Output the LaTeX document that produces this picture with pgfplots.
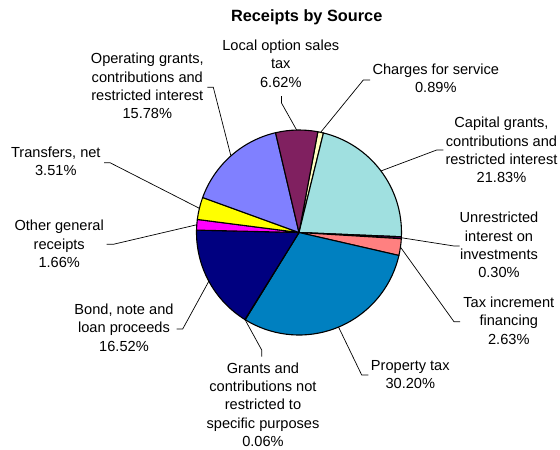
\documentclass[border=0pt]{standalone}
\usepackage{pgfplots}
\pgfplotsset{compat=1.18}
\usepackage{pgfplotstable}
\usepackage{fontspec}
\setmainfont{Liberation Sans}

% slice colours, clockwise from "Charges for service"
\definecolor{c0}{HTML}{FFFFC0}
\definecolor{c1}{HTML}{A0E0E0}
\definecolor{c2}{HTML}{660066}
\definecolor{c3}{HTML}{FF8080}
\definecolor{c4}{HTML}{0080C0}
\definecolor{c5}{HTML}{808000}
\definecolor{c6}{HTML}{000080}
\definecolor{c7}{HTML}{FF00FF}
\definecolor{c8}{HTML}{FFFF00}
\definecolor{c9}{HTML}{8080FF}
\definecolor{c10}{HTML}{802060}

% percentages, clockwise
\pgfplotstableread{
value
0.89
21.83
0.30
2.63
30.20
0.06
16.52
1.66
3.51
15.78
6.62
}\piedata

\begin{document}
\begin{tikzpicture}[
  lbl/.style={align=center, inner sep=0pt, font=\fontsize{14.6bp}{18.3bp}\selectfont},
  leader/.style={draw=black, line width=0.7bp},
]
\useasboundingbox (0,0) rectangle (560bp,450bp);
% start/end/mid angles of each slice (first slice starts 10.6 deg right of 12 o'clock)
\xdef\cum{79.4}
\foreach \i in {0,...,10}{%
  \pgfplotstablegetelem{\i}{value}\of\piedata
  \pgfmathsetmacro\a{\cum}%
  \pgfmathsetmacro\b{\cum-3.6*\pgfplotsretval}%
  \pgfmathsetmacro\m{(\a+\b)/2}%
  \expandafter\xdef\csname sa\i\endcsname{\a}%
  \expandafter\xdef\csname sb\i\endcsname{\b}%
  \expandafter\xdef\csname sm\i\endcsname{\m}%
  \xdef\cum{\b}%
}
\begin{axis}[
  at={(0,0)}, anchor=south west,
  hide axis, scale only axis,
  width=560bp, height=450bp,
  xmin=0, xmax=560, ymin=0, ymax=450,
  y dir=reverse, clip=false,
]
\pgfplotsinvokeforeach{0,...,10}{
  \edef\temp{\noexpand\filldraw[fill=c#1, draw=black, line width=1.1bp, line join=round]
    (axis cs:299,232.5) -- ++(\csname sa#1\endcsname:102.5bp)
    arc[start angle=\csname sa#1\endcsname, end angle=\csname sb#1\endcsname, radius=102.5bp] -- cycle;}
  \temp
  \edef\temp{\noexpand\path (axis cs:299,232.5) ++(\csname sm#1\endcsname:102.5bp) coordinate (rim#1);}
  \temp
}

% title
\node[font=\fontsize{16.3bp}{19bp}\selectfont\bfseries, anchor=base] at (axis cs:306.7,21.7) {Receipts by Source};

% labels
\node[lbl] at (axis cs:435.8,78.5) {Charges for service\\0.89\%};
\node[lbl] at (axis cs:501.5,150) {Capital grants,\\contributions and\\restricted interest\\21.83\%};
\node[lbl] at (axis cs:499,245) {Unrestricted\\interest on\\investments\\0.30\%};
\node[lbl] at (axis cs:508.8,320.5) {Tax increment\\financing\\2.63\%};
\node[lbl] at (axis cs:410.3,374.8) {Property tax\\30.20\%};
\node[lbl] at (axis cs:263,404.5) {Grants and\\contributions not\\restricted to\\specific purposes\\0.06\%};
\node[lbl] at (axis cs:124,327.6) {Bond, note and\\loan proceeds\\16.52\%};
\node[lbl] at (axis cs:59.2,243.8) {Other general\\receipts\\1.66\%};
\node[lbl] at (axis cs:55.8,161.6) {Transfers, net\\3.51\%};
\node[lbl] at (axis cs:147.3,86) {Operating grants,\\contributions and\\restricted interest\\15.78\%};
\node[lbl] at (axis cs:280.8,63.5) {Local option sales\\tax\\6.62\%};

% leader lines
\draw[leader] (axis cs:370,80) -- (axis cs:363.3,80) -- (rim0);
\draw[leader] (axis cs:443.3,150) -- (axis cs:436.7,150) -- (rim1);
\draw[leader] (axis cs:459.5,246) -- (axis cs:454,246) -- (rim2);
\draw[leader] (axis cs:460,321.7) -- (axis cs:454,321.7) -- (rim3);
\draw[leader] (axis cs:368.3,375) -- (axis cs:361.7,375) -- (rim4);
\draw[leader] (axis cs:261.7,356.7) -- (axis cs:261.7,350) -- (rim5);
\draw[leader] (axis cs:176.7,329) -- (axis cs:182.7,329) -- (rim6);
\draw[leader] (axis cs:106.7,244.3) -- (axis cs:113.3,244.3) -- (rim7);
\draw[leader] (axis cs:104,162.7) -- (axis cs:110,162.7) -- (rim8);
\draw[leader] (axis cs:207.3,87.3) -- (axis cs:213.3,87.3) -- (rim9);
\draw[leader] (axis cs:281.5,96) -- (axis cs:281.5,103) -- (rim10);
\end{axis}
\end{tikzpicture}
\end{document}
